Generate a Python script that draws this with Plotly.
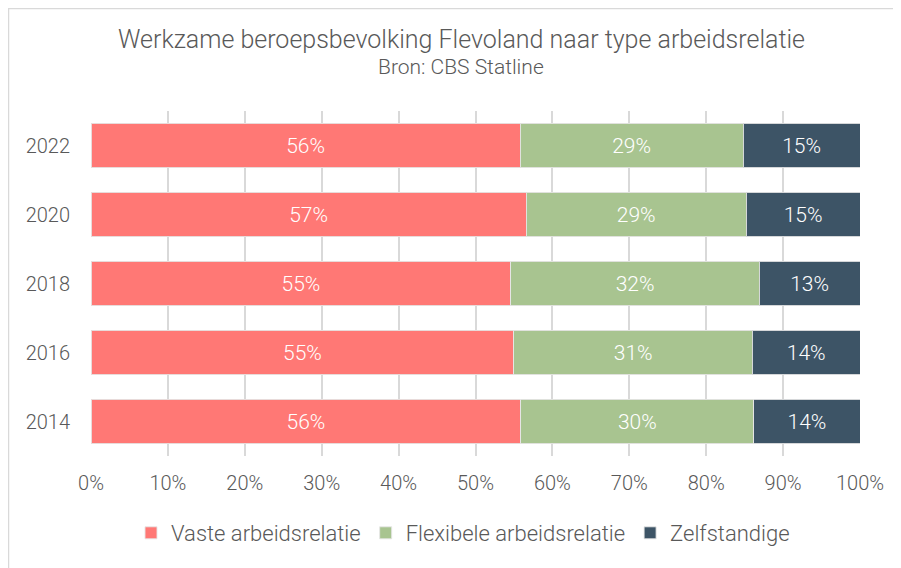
import plotly.graph_objects as go

years = ["2014", "2016", "2018", "2020", "2022"]
vaste = [55.9, 55.0, 54.6, 56.6, 55.8]
flexibel = [30.3, 31.0, 32.3, 28.6, 29.0]
zelfstandig = [13.8, 14.0, 13.1, 14.8, 15.2]
series_names = ["Vaste arbeidsrelatie", "Flexibele arbeidsrelatie", "Zelfstandige"]
colors = ["#FF7875", "#A8C490", "#3D5466"]
x_ticks = [0, 10, 20, 30, 40, 50, 60, 70, 80, 90, 100]
title = "Werkzame beroepsbevolking Flevoland naar type arbeidsrelatie"
subtitle = "Bron: CBS Statline"

FONT = "Roboto"
GREY = "#595959"
WT = 300
OFF = 8  # default page body margin

fig = go.Figure()
for name, vals, col in zip(series_names, [vaste, flexibel, zelfstandig], colors):
    fig.add_trace(go.Bar(
        y=years, x=vals, name=name, orientation="h",
        marker=dict(color=col, line=dict(color="rgba(230,230,230,0.9)", width=1)),
        text=[f"{int(v + 0.5)}%" for v in vals],
        textposition="inside", insidetextanchor="middle",
        textfont=dict(family=FONT, size=21, color="white", weight=WT),
        hoverinfo="skip",
    ))

W, H = 901 - OFF, 568 - OFF
ml = 91 - OFF
mr = W - (860 - OFF)
mt = 111 - OFF
mb = H - (456 - OFF)
pw, ph = W - ml - mr, H - mt - mb

def px_x(px):
    return (px - OFF - ml) / pw

def px_y(py):
    return (H - mb - (py - OFF)) / ph

fig.update_layout(
    width=W, height=H,
    barmode="stack", bargap=0.35,
    paper_bgcolor="white", plot_bgcolor="white",
    margin=dict(l=ml, r=mr, t=mt, b=mb, autoexpand=False),
    font=dict(family=FONT, color=GREY, size=20, weight=WT),
    showlegend=True,
    legend=dict(orientation="h", x=px_x(463), xanchor="center", y=px_y(533), yanchor="middle",
                font=dict(family=FONT, size=22, color=GREY, weight=WT), traceorder="normal",
                itemwidth=30, tracegroupgap=0),
    xaxis=dict(range=[0, 100], tickvals=x_ticks, ticktext=[f"{t}%" for t in x_ticks],
               showgrid=True, gridcolor="#D9D9D9", gridwidth=1.5, zeroline=False,
               ticks="outside", ticklen=9, tickcolor="rgba(0,0,0,0)",
               tickfont=dict(family=FONT, size=20, color=GREY, weight=WT), fixedrange=True),
    yaxis=dict(categoryorder="array", categoryarray=years,
               ticks="outside", ticklen=16, tickcolor="rgba(0,0,0,0)",
               tickfont=dict(family=FONT, size=20, color=GREY, weight=WT), showgrid=False, fixedrange=True),
    shapes=[dict(type="rect", xref="paper", yref="paper",
                 x0=px_x(8.5), x1=px_x(915), y0=px_y(580), y1=px_y(8.5),
                 line=dict(color="#D9D9D9", width=1.5), fillcolor="rgba(0,0,0,0)", layer="below")],
    annotations=[
        dict(text=title, xref="paper", yref="paper", x=px_x(461), y=px_y(40),
             xanchor="center", yanchor="middle", showarrow=False,
             font=dict(family=FONT, size=25, color=GREY, weight=WT)),
        dict(text=subtitle, xref="paper", yref="paper", x=px_x(461), y=px_y(67),
             xanchor="center", yanchor="middle", showarrow=False,
             font=dict(family=FONT, size=21, color=GREY, weight=WT)),
    ],
)

fig.write_html("out.html")
